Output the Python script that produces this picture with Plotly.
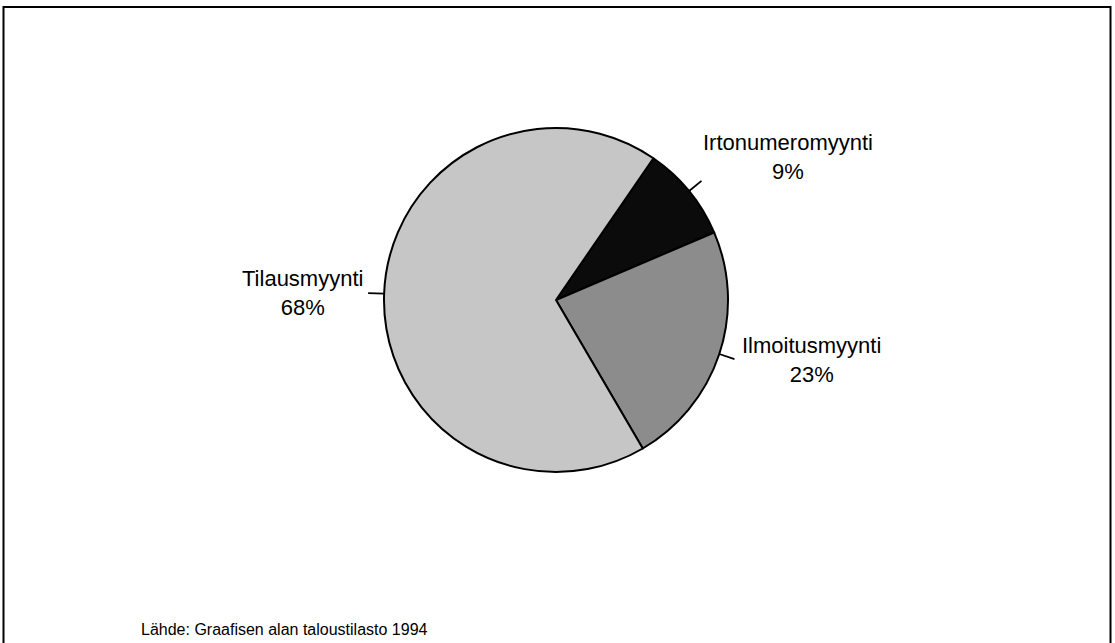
import math
import plotly.graph_objects as go

# Revenue split of the publishing sector (source: Graafisen alan taloustilasto 1994)
labels = ["Irtonumeromyynti", "Ilmoitusmyynti", "Tilausmyynti"]
shares = [9, 23, 68]
colors = ["#0b0b0b", "#8c8c8c", "#c6c6c6"]

W, H = 1115, 643
CX, CY, R = 556, 300, 172          # pie centre and radius in pixels
ROTATION = 34.5                    # first slice starts here, clockwise from 12 o'clock
TICK = 16                          # length of the label leader ticks
FONT = "Liberation Sans, Arial, Helvetica, sans-serif"

# label placement relative to the outer end of each leader tick
label_anchor = {
    "Irtonumeromyynti": dict(xanchor="left", yanchor="bottom", dx=0, dy=5),
    "Ilmoitusmyynti": dict(xanchor="left", yanchor="middle", dx=6, dy=1),
    "Tilausmyynti": dict(xanchor="right", yanchor="middle", dx=-3, dy=0),
}


def px(x):
    return x / W


def py(y):
    return 1 - y / H


fig = go.Figure(
    go.Pie(
        labels=labels,
        values=shares,
        sort=False,
        direction="clockwise",
        rotation=ROTATION,
        textinfo="none",
        hoverinfo="label+percent",
        marker=dict(colors=colors, line=dict(color="#000000", width=2)),
        domain=dict(x=[px(CX - R), px(CX + R)], y=[py(CY + R), py(CY - R)]),
        showlegend=False,
    )
)

shapes = []
annotations = []
total = sum(shares)
before = 0
for name, val in zip(labels, shares):
    mid = math.radians(ROTATION + 360 * (before + val / 2) / total)
    before += val
    sx, sy = math.sin(mid), -math.cos(mid)
    x0, y0 = CX + R * sx, CY + R * sy
    x1, y1 = CX + (R + TICK) * sx, CY + (R + TICK) * sy
    shapes.append(dict(type="line", xref="paper", yref="paper",
                       x0=px(x0), y0=py(y0), x1=px(x1), y1=py(y1),
                       line=dict(color="#000000", width=1.8)))
    a = label_anchor[name]
    annotations.append(dict(
        xref="paper", yref="paper",
        x=px(x1 + a["dx"]), y=py(y1 + a["dy"]),
        xanchor=a["xanchor"], yanchor=a["yanchor"],
        text=f"{name}<br>{val}%", align="center", showarrow=False,
        font=dict(family=FONT, size=22, color="#000000"),
    ))

annotations.append(dict(
    xref="paper", yref="paper", x=px(139), y=py(629),
    xanchor="left", yanchor="middle", showarrow=False,
    text="Lähde: Graafisen alan taloustilasto 1994",
    font=dict(family=FONT, size=16, color="#000000"),
))

# outer frame of the figure
shapes.append(dict(type="rect", xref="paper", yref="paper",
                   x0=px(3.5), y0=py(660), x1=px(1110.5), y1=py(7),
                   line=dict(color="#000000", width=2)))

fig.update_layout(
    width=W, height=H,
    margin=dict(l=0, r=0, t=0, b=0),
    paper_bgcolor="#ffffff", plot_bgcolor="#ffffff",
    shapes=shapes, annotations=annotations,
)

fig.write_html("out.html")
